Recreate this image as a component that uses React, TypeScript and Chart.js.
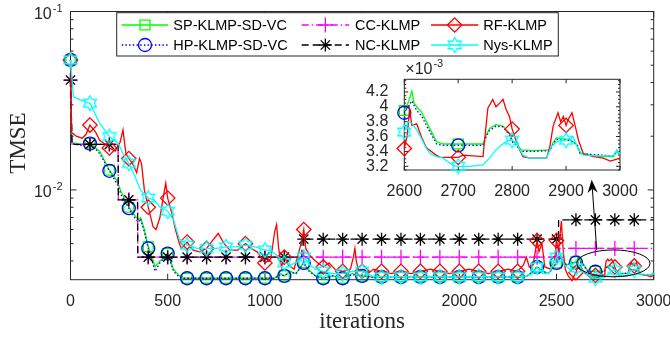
import React, { useEffect, useRef } from 'react';
import { Chart, registerables } from 'chart.js';
import { drawPoint } from 'chart.js/helpers';

Chart.register(...registerables);

// ---------------- axes ----------------
const ITER_MIN = 0;
const ITER_MAX = 3000;
const ITER_STEP = 500;
const TMSE_MIN = 3.14e-3;
const TMSE_MAX = 1e-1;
const TMSE_LABEL_EXP = [-2, -1];
const ZOOM_ITER_MIN = 2600;
const ZOOM_ITER_MAX = 3000;
const ZOOM_ITER_STEP = 100;
const ZOOM_MIN = 3.15; // x10^-3
const ZOOM_MAX = 4.37;
const ZOOM_STEP = 0.2;
const MARKER_EVERY = 100;

// ---------------- data (TMSE in units of 10^-3) ----------------
const spIter = [0, 5, 50, 100, 150, 200, 240, 260, 300, 330, 350, 360, 380, 400, 420, 435, 460, 500, 530, 560, 580, 600, 700, 800, 900, 1000, 1050, 1080, 1100, 1130, 1160, 1190, 1200, 1220, 1260, 1300, 1350, 1400, 1450, 1500, 1550, 1600, 1700, 1800, 1900, 2000, 2100, 2200, 2300, 2350, 2380, 2400, 2430, 2460, 2500, 2520, 2550, 2580, 2600, 2607, 2614, 2618, 2623, 2632, 2641, 2650, 2660, 2672, 2700, 2746, 2752, 2758, 2770, 2783, 2795, 2801, 2808, 2817, 2840, 2870, 2876, 2882, 2907, 2920, 2926, 2944, 2965, 2988, 2994, 3000];
const spTMSE = [53.5, 18.5, 18.0, 18.3, 16.5, 12.9, 11.2, 9.8, 8.0, 7.2, 6.8, 7.0, 6.0, 4.8, 4.2, 3.7, 4.0, 4.4, 3.6, 3.3, 3.2, 3.2, 3.2, 3.2, 3.2, 3.2, 3.2, 3.4, 3.3, 3.5, 3.4, 3.8, 3.9, 3.6, 3.3, 3.2, 3.3, 3.2, 3.4, 3.3, 3.25, 3.26, 3.26, 3.26, 3.26, 3.26, 3.26, 3.26, 3.26, 3.3, 3.5, 3.7, 3.5, 3.4, 3.9, 4.3, 3.8, 3.9, 3.95, 4.05, 4.21, 4.05, 4.0, 3.93, 3.8, 3.67, 3.53, 3.5, 3.5, 3.5, 3.62, 3.71, 3.76, 3.74, 3.64, 3.54, 3.5, 3.42, 3.41, 3.42, 3.52, 3.58, 3.56, 3.49, 3.37, 3.35, 3.33, 3.33, 3.40, 3.35];

const hpIter = [0, 5, 50, 100, 150, 200, 240, 260, 300, 330, 350, 360, 380, 400, 420, 435, 460, 500, 530, 560, 580, 600, 700, 800, 900, 1000, 1050, 1080, 1100, 1130, 1160, 1190, 1200, 1220, 1260, 1300, 1350, 1400, 1450, 1500, 1550, 1600, 1700, 1800, 1900, 2000, 2100, 2200, 2300, 2350, 2380, 2400, 2430, 2460, 2500, 2520, 2550, 2580, 2600, 2607, 2614, 2618, 2623, 2632, 2641, 2650, 2660, 2672, 2700, 2746, 2752, 2758, 2770, 2783, 2795, 2801, 2808, 2817, 2840, 2870, 2876, 2882, 2907, 2920, 2926, 2944, 2965, 2988, 2994, 3000];
const hpTMSE = [53.5, 18.2, 17.8, 18.2, 16.0, 12.8, 10.8, 9.4, 7.9, 7.0, 6.6, 6.9, 5.8, 4.7, 4.0, 3.5, 3.9, 4.4, 3.5, 3.25, 3.2, 3.2, 3.2, 3.2, 3.2, 3.2, 3.2, 3.35, 3.3, 3.45, 3.4, 3.75, 3.9, 3.55, 3.3, 3.2, 3.3, 3.2, 3.35, 3.3, 3.25, 3.26, 3.25, 3.26, 3.25, 3.26, 3.25, 3.26, 3.25, 3.3, 3.5, 3.7, 3.5, 3.4, 3.9, 4.2, 3.8, 3.9, 3.92, 4.0, 4.08, 4.02, 3.95, 3.88, 3.75, 3.63, 3.5, 3.48, 3.48, 3.48, 3.6, 3.68, 3.74, 3.73, 3.62, 3.52, 3.48, 3.40, 3.40, 3.41, 3.5, 3.56, 3.55, 3.5, 3.38, 3.36, 3.35, 3.34, 3.41, 3.36];

const ccIter = [0, 8, 100, 200, 245, 246, 300, 345, 346, 400, 500, 600, 700, 800, 900, 1000, 1100, 1200, 1300, 1400, 1500, 1600, 1700, 1800, 1900, 2000, 2100, 2200, 2300, 2400, 2500, 2515, 2516, 2600, 2700, 2800, 2900, 3000];
const ccTMSE = [41.3, 18.0, 18.0, 18.0, 18.0, 8.8, 8.8, 8.8, 4.2, 4.2, 4.2, 4.2, 4.2, 4.2, 4.2, 4.2, 4.2, 4.2, 4.2, 4.2, 4.2, 4.2, 4.2, 4.2, 4.2, 4.2, 4.2, 4.2, 4.2, 4.2, 4.2, 4.2, 4.7, 4.7, 4.7, 4.7, 4.7, 4.7];

const ncIter = [0, 8, 100, 200, 245, 246, 300, 345, 346, 400, 500, 600, 700, 800, 900, 1000, 1100, 1190, 1191, 1200, 1300, 1400, 1500, 1600, 1700, 1800, 1900, 2000, 2100, 2200, 2300, 2400, 2500, 2510, 2511, 2600, 2700, 2800, 2900, 3000];
const ncTMSE = [41.3, 18.0, 18.0, 18.0, 18.0, 8.8, 8.8, 8.8, 4.2, 4.2, 4.2, 4.2, 4.2, 4.2, 4.2, 4.2, 4.2, 4.2, 5.3, 5.3, 5.3, 5.3, 5.3, 5.3, 5.3, 5.3, 5.3, 5.3, 5.3, 5.3, 5.3, 5.3, 5.3, 5.3, 6.8, 6.8, 6.8, 6.8, 6.8, 6.8];

const rfIter = [0, 6, 30, 60, 80, 100, 130, 150, 180, 200, 230, 255, 270, 285, 300, 320, 340, 355, 365, 380, 400, 425, 440, 460, 480, 490, 500, 520, 540, 560, 570, 600, 630, 665, 700, 730, 760, 790, 820, 860, 900, 930, 960, 1000, 1030, 1050, 1060, 1070, 1085, 1100, 1120, 1150, 1175, 1190, 1200, 1210, 1230, 1260, 1300, 1330, 1360, 1400, 1440, 1455, 1463, 1470, 1480, 1500, 1530, 1560, 1600, 1650, 1700, 1750, 1800, 1850, 1900, 1950, 2000, 2050, 2100, 2150, 2200, 2250, 2300, 2330, 2345, 2360, 2380, 2400, 2410, 2425, 2440, 2470, 2490, 2500, 2510, 2525, 2535, 2545, 2560, 2580, 2590, 2600, 2605, 2610, 2614, 2623, 2632, 2641, 2657, 2666, 2700, 2709, 2746, 2749, 2755, 2764, 2770, 2777, 2783, 2789, 2795, 2800, 2807, 2814, 2820, 2833, 2864, 2870, 2876, 2885, 2890, 2895, 2900, 2904, 2911, 2917, 2923, 2932, 2951, 2969, 2982, 2991, 3000];
const rfTMSE = [53.5, 21.0, 20.0, 19.5, 20.5, 23.1, 21.0, 19.0, 18.0, 17.2, 16.5, 18.5, 21.7, 16.0, 15.0, 14.0, 12.5, 15.0, 14.1, 10.0, 8.0, 6.2, 6.0, 7.0, 9.5, 10.9, 9.0, 7.5, 6.0, 5.0, 4.7, 5.1, 4.6, 4.5, 4.7, 5.2, 5.7, 5.0, 4.6, 4.6, 5.0, 4.7, 4.5, 3.9, 4.1, 5.8, 6.4, 4.8, 3.7, 4.2, 3.8, 3.6, 4.5, 5.2, 6.0, 4.7, 4.3, 4.0, 3.7, 3.9, 3.6, 3.5, 3.6, 4.2, 4.7, 4.0, 3.6, 3.5, 3.4, 3.6, 3.5, 3.4, 3.5, 3.4, 3.5, 3.6, 3.5, 3.4, 3.5, 3.6, 3.5, 3.4, 3.5, 3.6, 3.5, 3.8, 4.2, 3.7, 3.8, 5.2, 4.5, 5.0, 3.7, 3.6, 4.0, 5.2, 4.5, 6.7, 4.5, 3.6, 3.3, 3.1, 3.3, 3.44, 3.6, 3.96, 3.75, 3.77, 3.59, 3.45, 3.36, 3.32, 3.32, 3.35, 3.33, 3.56, 3.98, 4.10, 4.0, 4.05, 4.10, 3.96, 3.87, 3.70, 3.55, 3.42, 3.33, 3.31, 3.31, 3.47, 3.74, 3.92, 3.80, 3.87, 3.75, 3.83, 3.92, 3.74, 3.55, 3.37, 3.33, 3.31, 3.27, 3.29, 3.31];

const nysIter = [0, 15, 50, 100, 150, 200, 245, 270, 300, 330, 360, 400, 430, 460, 500, 530, 560, 600, 650, 700, 750, 800, 850, 900, 950, 1000, 1030, 1060, 1100, 1130, 1160, 1200, 1230, 1260, 1300, 1350, 1400, 1450, 1500, 1550, 1600, 1700, 1800, 1900, 2000, 2100, 2200, 2300, 2350, 2380, 2400, 2430, 2460, 2500, 2520, 2540, 2570, 2590, 2600, 2607, 2614, 2622, 2632, 2640, 2648, 2660, 2672, 2685, 2691, 2700, 2720, 2746, 2758, 2770, 2777, 2793, 2800, 2808, 2820, 2833, 2864, 2873, 2885, 2900, 2913, 2923, 2932, 2960, 2988, 2994, 3000];
const nysTMSE = [53.5, 33.3, 32.0, 30.6, 23.7, 19.9, 18.3, 16.0, 14.1, 12.0, 10.0, 9.0, 8.8, 8.0, 7.6, 6.8, 5.3, 4.9, 4.7, 4.7, 4.7, 4.8, 4.8, 4.9, 4.8, 4.6, 4.6, 4.3, 3.9, 3.8, 3.9, 4.2, 3.8, 3.6, 3.5, 3.4, 3.4, 3.5, 3.5, 3.3, 3.26, 3.27, 3.26, 3.27, 3.26, 3.27, 3.26, 3.27, 3.3, 3.4, 3.7, 3.4, 3.4, 4.2, 4.4, 3.8, 3.6, 3.6, 3.66, 3.80, 3.78, 3.70, 3.57, 3.45, 3.37, 3.33, 3.31, 3.24, 3.21, 3.20, 3.20, 3.22, 3.31, 3.42, 3.47, 3.55, 3.55, 3.51, 3.35, 3.31, 3.31, 3.47, 3.54, 3.55, 3.60, 3.42, 3.35, 3.34, 3.34, 3.42, 3.36];

// zoom annotation (ellipse region and arrow, in data units, TMSE x10^-3)
const zoomEllipseIter = [2604, 2981];
const zoomEllipseTMSE = [3.26, 4.61];
const zoomArrowIter = [2707, 2681];
const zoomArrowTMSE = [4.6, 11.4];

const AX = '#262626';
const SANS = "'Liberation Sans', Arial, Helvetica, sans-serif";
const SERIF = "'Liberation Serif', 'Times New Roman', serif";

function hexagram(color: string, R: number, lw: number) {
  const size = Math.ceil(2 * R + 2 * lw + 2);
  const c = document.createElement('canvas');
  c.width = size;
  c.height = size;
  const g = c.getContext('2d')!;
  const cx = size / 2, cy = size / 2, r = R / Math.sqrt(3);
  g.beginPath();
  for (let k = 0; k < 12; k++) {
    const ang = -Math.PI / 2 + (k * Math.PI) / 6;
    const rr = k % 2 === 0 ? R : r;
    const px = cx + rr * Math.cos(ang), py = cy + rr * Math.sin(ang);
    if (k === 0) g.moveTo(px, py); else g.lineTo(px, py);
  }
  g.closePath();
  g.strokeStyle = color;
  g.lineWidth = lw;
  g.stroke();
  return c;
}

function buildSeries() {
  return [
    { label: 'SP-KLMP-SD-VC', x: spIter, y: spTMSE, color: '#00ff00', dash: [], marker: 'rect', radius: 7, order: 6 },
    { label: 'HP-KLMP-SD-VC', x: hpIter, y: hpTMSE, color: '#0000ff', dash: [1.5, 2.2], marker: 'circle', radius: 6.5, order: 5 },
    { label: 'CC-KLMP', x: ccIter, y: ccTMSE, color: '#ff00ff', dash: [7, 3, 1.5, 3], marker: 'cross', radius: 7.5, order: 4 },
    { label: 'NC-KLMP', x: ncIter, y: ncTMSE, color: '#000000', dash: [7, 4], marker: 'star', radius: 6.5, order: 3 },
    { label: 'RF-KLMP', x: rfIter, y: rfTMSE, color: '#ff0000', dash: [], marker: 'rectRot', radius: 7.2, order: 2 },
    { label: 'Nys-KLMP', x: nysIter, y: nysTMSE, color: '#00ffff', dash: [], marker: hexagram('#00ffff', 7.5, 1.3), radius: 7.5, order: 1 },
  ];
}

function makeDataset(s: any, scale: number, fromIter: number) {
  const data = s.x
    .map((x: number, i: number) => ({ x, y: s.y[i] * scale }))
    .filter((p: any) => p.x >= fromIter);
  return {
    label: s.label,
    data,
    borderColor: s.color,
    backgroundColor: s.color,
    borderWidth: 1.3,
    borderDash: s.dash,
    pointStyle: s.marker,
    pointRadius: (ctx: any) => {
      const r = ctx.raw;
      return r && r.x % MARKER_EVERY === 0 && r.x < ITER_MAX ? s.radius : 0;
    },
    pointHoverRadius: 0,
    pointBorderColor: s.color,
    pointBackgroundColor: 'rgba(0,0,0,0)',
    pointBorderWidth: 1.3,
    fill: false,
    tension: 0,
    order: s.order,
    clip: false,
  };
}

function drawSup(ctx: CanvasRenderingContext2D, base: string, sup: string, right: number, y: number, align: 'right' | 'left') {
  ctx.font = `16px ${SANS}`;
  const bw = ctx.measureText(base).width;
  ctx.font = `11px ${SANS}`;
  const sw = ctx.measureText(sup).width;
  const left = align === 'right' ? right - bw - sw - 1 : right;
  ctx.textAlign = 'left';
  ctx.textBaseline = 'middle';
  ctx.font = `16px ${SANS}`;
  ctx.fillText(base, left, y + 3);
  ctx.font = `11px ${SANS}`;
  ctx.fillText(sup, left + bw + 1, y - 2.5);
}

function makeMainPlugin(series: any[]) {
  return {
    id: 'mainDecor',
    beforeDatasetsDraw(chart: any) {
      const { ctx, chartArea: a } = chart;
      const xs = chart.scales.x, ys = chart.scales.y;
      ctx.save();
      ctx.fillStyle = '#ffffff';
      ctx.fillRect(a.left, a.top, a.right - a.left, a.bottom - a.top);
      ctx.strokeStyle = AX;
      ctx.lineWidth = 1;
      ctx.setLineDash([]);
      ctx.strokeRect(a.left, a.top, a.right - a.left, a.bottom - a.top);
      ctx.beginPath();
      xs.ticks.forEach((t: any) => {
        const p = xs.getPixelForValue(t.value);
        ctx.moveTo(p, a.bottom); ctx.lineTo(p, a.bottom - 6);
        ctx.moveTo(p, a.top); ctx.lineTo(p, a.top + 6);
      });
      for (let d = -3; d <= -1; d++) {
        for (let m = 1; m <= 9; m++) {
          const v = m * Math.pow(10, d);
          if (v < ys.min || v > ys.max * 1.0001) continue;
          const p = ys.getPixelForValue(v);
          const len = m === 1 ? 6 : 3;
          ctx.moveTo(a.left, p); ctx.lineTo(a.left + len, p);
          ctx.moveTo(a.right, p); ctx.lineTo(a.right - len, p);
        }
      }
      ctx.stroke();
      ctx.restore();
    },
    afterDatasetsDraw(chart: any) {
      const { ctx } = chart;
      const xs = chart.scales.x, ys = chart.scales.y;
      ctx.save();
      ctx.strokeStyle = '#000';
      ctx.fillStyle = '#000';
      ctx.lineWidth = 1;
      ctx.setLineDash([]);
      const ex0 = xs.getPixelForValue(zoomEllipseIter[0]);
      const ex1 = xs.getPixelForValue(zoomEllipseIter[1]);
      const ey0 = ys.getPixelForValue(zoomEllipseTMSE[1] * 1e-3);
      const ey1 = ys.getPixelForValue(zoomEllipseTMSE[0] * 1e-3);
      ctx.beginPath();
      ctx.ellipse((ex0 + ex1) / 2, (ey0 + ey1) / 2, (ex1 - ex0) / 2, (ey1 - ey0) / 2, 0, 0, Math.PI * 2);
      ctx.stroke();
      const ax0 = xs.getPixelForValue(zoomArrowIter[0]);
      const ay0 = ys.getPixelForValue(zoomArrowTMSE[0] * 1e-3);
      const ax1 = xs.getPixelForValue(zoomArrowIter[1]);
      const ay1 = ys.getPixelForValue(zoomArrowTMSE[1] * 1e-3);
      const ang = Math.atan2(ay1 - ay0, ax1 - ax0);
      const hl = 13, hw = 5, notch = 9;
      const ux = Math.cos(ang), uy = Math.sin(ang);
      const nx = -uy, ny = ux;
      ctx.beginPath();
      ctx.moveTo(ax0, ay0);
      ctx.lineTo(ax1 - ux * notch, ay1 - uy * notch);
      ctx.stroke();
      ctx.beginPath();
      ctx.moveTo(ax1, ay1);
      ctx.lineTo(ax1 - ux * hl + nx * hw, ay1 - uy * hl + ny * hw);
      ctx.lineTo(ax1 - ux * notch, ay1 - uy * notch);
      ctx.lineTo(ax1 - ux * hl - nx * hw, ay1 - uy * hl - ny * hw);
      ctx.closePath();
      ctx.fill();
      ctx.restore();
    },
    afterDraw(chart: any) {
      const { ctx, chartArea: a } = chart;
      const ys = chart.scales.y;
      ctx.save();
      ctx.fillStyle = AX;
      TMSE_LABEL_EXP.forEach((e) => {
        const p = ys.getPixelForValue(Math.pow(10, e));
        drawSup(ctx, '10', String(e), a.left - 8, p, 'right');
      });
      // axis titles
      ctx.font = `23px ${SERIF}`;
      ctx.textAlign = 'center';
      ctx.textBaseline = 'alphabetic';
      ctx.fillText('iterations', (a.left + a.right) / 2, 328);
      ctx.save();
      ctx.translate(25, 143);
      ctx.rotate(-Math.PI / 2);
      ctx.fillText('TMSE', 0, 0);
      ctx.restore();

      // legend
      const L = a.left, T = a.top;
      const bx0 = L + 46.2, by0 = T + 1.2, bw = 441.6, bh = 43.3;
      ctx.fillStyle = '#ffffff';
      ctx.fillRect(bx0, by0, bw, bh);
      ctx.strokeStyle = AX;
      ctx.lineWidth = 1;
      ctx.strokeRect(bx0, by0, bw, bh);
      const cols = [
        { x0: 51.2, x1: 97.8, tx: 102.8 },
        { x0: 231.2, x1: 278.5, tx: 284.5 },
        { x0: 360.5, x1: 407.8, tx: 412.8 },
      ];
      const rows = [13.5, 33.5];
      const grid = [[0, 2, 4], [1, 3, 5]];
      grid.forEach((row, ri) => {
        row.forEach((si, ci) => {
          const s = series[si];
          const c = cols[ci];
          const y = T + rows[ri];
          ctx.save();
          ctx.strokeStyle = s.color;
          ctx.lineWidth = 1.3;
          ctx.setLineDash(s.dash);
          ctx.beginPath();
          ctx.moveTo(L + c.x0, y);
          ctx.lineTo(L + c.x1, y);
          ctx.stroke();
          ctx.setLineDash([]);
          ctx.fillStyle = 'rgba(0,0,0,0)';
          drawPoint(ctx, { pointStyle: s.marker, radius: s.radius, borderWidth: 1.3, rotation: 0 } as any, L + (c.x0 + c.x1) / 2, y);
          ctx.restore();
          ctx.fillStyle = '#000000';
          ctx.font = `14.5px ${SANS}`;
          ctx.textAlign = 'left';
          ctx.textBaseline = 'middle';
          ctx.fillText(s.label, L + c.tx, y + 0.5);
        });
      });
      ctx.restore();
    },
  };
}

const insetPlugin = {
  id: 'insetDecor',
  beforeDatasetsDraw(chart: any) {
    const { ctx, chartArea: a } = chart;
    const xs = chart.scales.x, ys = chart.scales.y;
    ctx.save();
    ctx.fillStyle = '#ffffff';
    ctx.fillRect(a.left, a.top, a.right - a.left, a.bottom - a.top);
    ctx.strokeStyle = AX;
    ctx.lineWidth = 1;
    ctx.strokeRect(a.left, a.top, a.right - a.left, a.bottom - a.top);
    ctx.beginPath();
    xs.ticks.forEach((t: any) => {
      const p = xs.getPixelForValue(t.value);
      ctx.moveTo(p, a.bottom); ctx.lineTo(p, a.bottom - 4);
      ctx.moveTo(p, a.top); ctx.lineTo(p, a.top + 4);
    });
    for (let k = Math.ceil(ZOOM_MIN * 20); k <= Math.floor(ZOOM_MAX * 20); k++) {
      const v = k / 20;
      const p = ys.getPixelForValue(v);
      const len = k % 4 === 0 ? 4 : 2;
      ctx.moveTo(a.left, p); ctx.lineTo(a.left + len, p);
      ctx.moveTo(a.right, p); ctx.lineTo(a.right - len, p);
    }
    ctx.stroke();
    ctx.restore();
  },
  afterDraw(chart: any) {
    const { ctx, chartArea: a } = chart;
    ctx.save();
    ctx.fillStyle = AX;
    ctx.font = `16px ${SANS}`;
    ctx.textAlign = 'left';
    ctx.textBaseline = 'alphabetic';
    const bw = ctx.measureText('\u00d710').width;
    ctx.fillText('\u00d710', a.left + 1, a.top - 5);
    ctx.font = `11px ${SANS}`;
    ctx.fillText('-3', a.left + 1 + bw + 1, a.top - 12);
    ctx.restore();
  },
};

export default function App() {
  const mainRef = useRef<HTMLCanvasElement>(null);
  const insetRef = useRef<HTMLCanvasElement>(null);

  useEffect(() => {
    const series = buildSeries();
    const mainChart = new Chart(mainRef.current!, {
      type: 'line',
      data: { datasets: series.map((s) => makeDataset(s, 1e-3, ITER_MIN)) as any },
      options: {
        animation: false,
        responsive: false,
        devicePixelRatio: 1,
        events: [],
        layout: { padding: { left: 0, right: 16.3, top: 11.5, bottom: 0 } },
        plugins: { legend: { display: false }, tooltip: { enabled: false } },
        scales: {
          x: {
            type: 'linear',
            min: ITER_MIN,
            max: ITER_MAX,
            grid: { display: false },
            border: { display: false },
            ticks: {
              stepSize: ITER_STEP,
              autoSkip: false,
              maxRotation: 0,
              padding: 4,
              color: AX,
              font: { family: SANS, size: 16 },
              callback: (v: any) => String(v),
            },
            afterFit: (s: any) => { s.height = 57.3; s.paddingLeft = 0; s.paddingRight = 0; },
          },
          y: {
            type: 'logarithmic',
            min: TMSE_MIN,
            max: TMSE_MAX,
            grid: { display: false },
            border: { display: false },
            ticks: { display: false },
            afterFit: (s: any) => { s.width = 70.5; s.paddingTop = 0; s.paddingBottom = 0; },
          },
        },
      } as any,
      plugins: [makeMainPlugin(series)],
    });

    const insetSeries = series.filter((s) => s.label !== 'CC-KLMP' && s.label !== 'NC-KLMP');
    const insetChart = new Chart(insetRef.current!, {
      type: 'line',
      data: { datasets: insetSeries.map((s) => makeDataset(s, 1, ZOOM_ITER_MIN)) as any },
      options: {
        animation: false,
        responsive: false,
        devicePixelRatio: 1,
        events: [],
        layout: { padding: { left: 0, right: 30, top: 24.3, bottom: 0 } },
        plugins: { legend: { display: false }, tooltip: { enabled: false } },
        scales: {
          x: {
            type: 'linear',
            min: ZOOM_ITER_MIN,
            max: ZOOM_ITER_MAX,
            grid: { display: false },
            border: { display: false },
            ticks: {
              stepSize: ZOOM_ITER_STEP,
              autoSkip: false,
              maxRotation: 0,
              padding: 4,
              color: AX,
              font: { family: SANS, size: 16 },
              callback: (v: any) => String(v),
            },
            afterFit: (s: any) => { s.height = 30; s.paddingLeft = 0; s.paddingRight = 0; },
          },
          y: {
            type: 'linear',
            min: ZOOM_MIN,
            max: ZOOM_MAX,
            grid: { display: false },
            border: { display: false },
            ticks: {
              stepSize: ZOOM_STEP,
              includeBounds: false,
              autoSkip: false,
              padding: 8,
              color: AX,
              font: { family: SANS, size: 16 },
              callback: (v: any) => String(Math.round(v * 10) / 10),
            },
            afterFit: (s: any) => { s.width = 64.3; s.paddingTop = 0; s.paddingBottom = 0; },
          },
        },
      } as any,
      plugins: [insetPlugin],
    });

    return () => {
      mainChart.destroy();
      insetChart.destroy();
    };
  }, []);

  return (
    <div style={{ position: 'fixed', left: 0, top: 0, width: 670, height: 337, background: '#ffffff' }}>
      <canvas ref={mainRef} width={670} height={337} style={{ position: 'absolute', left: 0, top: 0, width: 670, height: 337 }} />
      <canvas ref={insetRef} width={310} height={145} style={{ position: 'absolute', left: 340, top: 55, width: 310, height: 145 }} />
    </div>
  );
}
